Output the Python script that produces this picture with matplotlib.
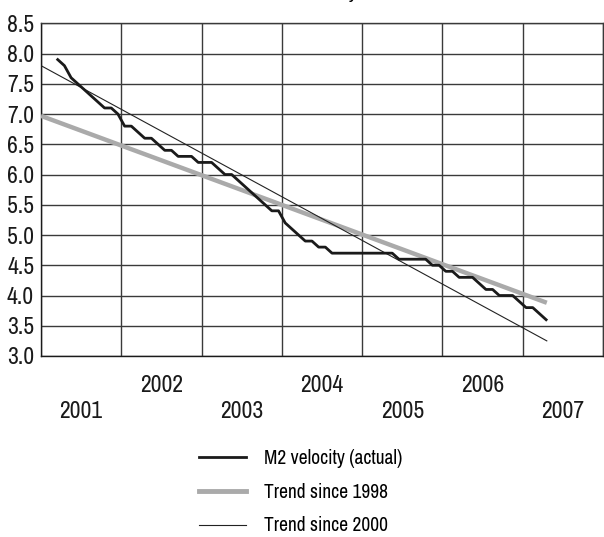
import numpy as np
import matplotlib
matplotlib.use("Agg")
from matplotlib import pyplot as plt
from matplotlib.lines import Line2D

plt.rcParams['font.family'] = ['Archivo Narrow', 'Barlow Condensed', 'DejaVu Sans']

# monthly M2 velocity, Mar 2001 .. Apr 2007
start_year = 2001
start_month = 3
m2_velocity = [7.9, 7.8, 7.6, 7.5, 7.4, 7.3, 7.2, 7.1, 7.1, 7.0,
               6.8, 6.8, 6.7, 6.6, 6.6, 6.5, 6.4, 6.4, 6.3, 6.3,
               6.3, 6.2, 6.2, 6.2, 6.1, 6.0, 6.0, 5.9, 5.8, 5.7,
               5.6, 5.5, 5.4, 5.4, 5.2, 5.1, 5.0, 4.9, 4.9, 4.8,
               4.8, 4.7, 4.7, 4.7, 4.7, 4.7, 4.7, 4.7, 4.7, 4.7,
               4.7, 4.6, 4.6, 4.6, 4.6, 4.6, 4.5, 4.5, 4.4, 4.4,
               4.3, 4.3, 4.3, 4.2, 4.1, 4.1, 4.0, 4.0, 4.0, 3.9,
               3.8, 3.8, 3.7, 3.6]

# trend lines (end points)
trend_x = [2001.0, 2007.3]
trend_1998 = [6.97, 3.88]
trend_2000 = [7.80, 3.25]

years = [2001, 2002, 2003, 2004, 2005, 2006, 2007]
yticks = [3.0, 3.5, 4.0, 4.5, 5.0, 5.5, 6.0, 6.5, 7.0, 7.5, 8.0, 8.5]

# x position = middle of each month
months = np.arange(len(m2_velocity)) + (start_month - 1)
x_m2 = start_year + (months + 0.5) / 12

fig = plt.figure(figsize=(6.04, 5.37), dpi=100)
ax = fig.add_axes([41/604, 1 - 356/537, 562/604, (356 - 23.3)/537])

gridc = '#3a3a3a'
ax.plot(trend_x, trend_1998, color='#aaaaaa', lw=3.2, solid_capstyle='butt', zorder=3)
ax.plot(trend_x, trend_2000, color='#222222', lw=0.8, zorder=4)
ax.plot(x_m2, m2_velocity, color='#1a1a1a', lw=2.0, zorder=5)

ax.set_xlim(2001, 2008)
ax.set_ylim(3.0, 8.5)
ax.set_yticks(yticks)
ax.set_yticklabels(['%.1f' % v for v in yticks])

# year boundaries = grid, labels in the middle of each year
ax.set_xticks(range(2001, 2009))
ax.set_xticklabels([])
ax.set_xticks([y + 0.5 for y in years], minor=True)
ax.set_xticklabels([('\n%d' % y) if y % 2 == 1 else ('%d' % y) for y in years],
                   minor=True, va='top', linespacing=1.25)

ax.grid(True, which='major', color=gridc, lw=1.0)
ax.tick_params(axis='both', which='both', length=0, labelsize=17, colors='#1a1a1a')
ax.tick_params(axis='x', which='minor', pad=14)
ax.tick_params(axis='y', pad=5)
for s in ax.spines.values():
    s.set_color(gridc)
    s.set_linewidth(1.0)
ax.spines['left'].set_color('#1a1a1a')
ax.spines['bottom'].set_color('#1a1a1a')

# title, cut off at the top of the picture
fig.text(357/604, 1 + 2/537, 'M2 velocity', ha='right', va='baseline',
         fontsize=15, fontweight='bold')

handles = [Line2D([], [], color='#1a1a1a', lw=2.0),
           Line2D([], [], color='#aaaaaa', lw=3.5),
           Line2D([], [], color='#222222', lw=0.8)]
labels = ['M2 velocity (actual)', 'Trend since 1998', 'Trend since 2000']
fig.legend(handles, labels, loc='upper left', bbox_to_anchor=(191/604, 1 - 441/537),
           frameon=False, fontsize=14, handlelength=2.45, handletextpad=0.9,
           labelspacing=0.76, borderaxespad=0)

fig.savefig('out.png', dpi=100)
